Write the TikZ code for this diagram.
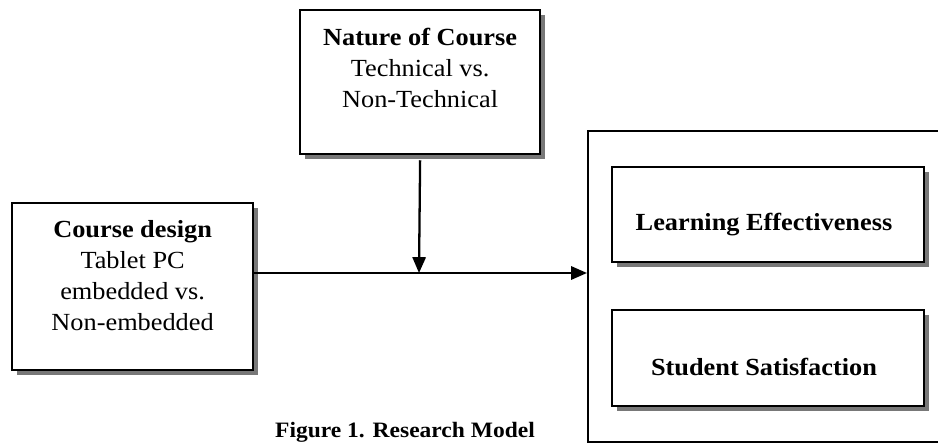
\documentclass[tikz,border=0pt]{standalone}
\usepackage{fontspec}
\setmainfont{Liberation Serif}[FakeStretch=1.07]
\usepackage{tikz}
\usetikzlibrary{arrows.meta, positioning, shadows}
\definecolor{shade}{RGB}{120,120,120}

\begin{document}
\begin{tikzpicture}[
  x=0.02cm, y=-0.02cm,
  box/.style={draw, line width=1.3pt, fill=white, anchor=north west, inner sep=0pt,
    drop shadow={shadow xshift=0.1cm, shadow yshift=-0.1cm, fill=shade, opacity=1}},
  frame/.style={draw, line width=1.3pt, anchor=north west, inner sep=0pt},
  label/.style={anchor=north, inner sep=0pt, align=center, font=\fontsize{14}{17.6}\selectfont},
  outcome/.style={anchor=base, inner sep=0pt, font=\fontsize{14}{17.6}\selectfont\bfseries},
  link/.style={line width=1.3pt, -{Triangle[length=9pt, width=7.5pt]}}
]
\useasboundingbox (0,0) rectangle (938,443);

% outcome frame
\node[frame, minimum width=7.46cm, minimum height=6.22cm] (outcome) at (587,130) {};

% factor boxes
\node[box, minimum width=4.82cm, minimum height=3.34cm] (course) at (11,202) {};
\node[label] (course-text) at ([yshift=-0.36cm]course.north)
  {\textbf{Course design}\\Tablet PC\\embedded vs.\\Non-embedded};

\node[box, minimum width=4.8cm, minimum height=2.88cm] (nature) at (299,9) {};
\node[label] (nature-text) at ([yshift=-0.385cm]nature.north)
  {\textbf{Nature of Course}\\Technical vs.\\Non-Technical};

\node[box, minimum width=6.24cm, minimum height=1.9cm] (learning) at (611,166) {};
\node[outcome] (learning-text) at (764,230) {Learning Effectiveness};

\node[box, minimum width=6.24cm, minimum height=1.92cm] (satisfaction) at (611,309) {};
\node[outcome] (satisfaction-text) at (764,375) {Student Satisfaction};

% arrows
\coordinate (join) at (419,273);
\draw[link] (course.east |- join) -- (outcome.west |- join);
\draw[link] ([yshift=-0.1cm]nature.south) -- (join);

\node[anchor=base, inner sep=0pt, font=\fontsize{12.5}{14}\selectfont\bfseries] (caption) at (405,437)
  {Figure 1. Research Model};
\end{tikzpicture}
\end{document}
